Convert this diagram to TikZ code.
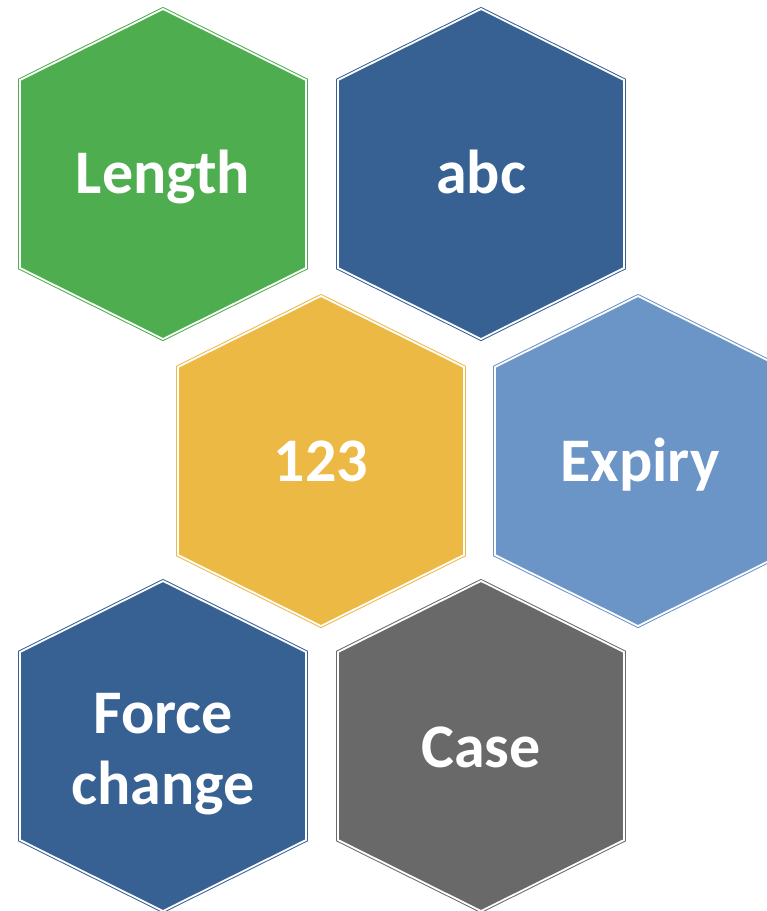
\documentclass[tikz,border=0pt]{standalone}
\usepackage{fontspec}
\setmainfont{Carlito}
\definecolor{cellgreen}{HTML}{4EAD4F}
\definecolor{cellnavy}{HTML}{386193}
\definecolor{cellgold}{HTML}{EDB945}
\definecolor{cellsky}{HTML}{6C95C7}
\definecolor{cellgray}{HTML}{696969}
\tikzset{
  hexcell/.style={draw=#1, fill=#1, line width=1pt, double=white, double distance=1.8pt},
  hexlabel/.style={text=white, font=\bfseries\fontsize{62}{71}\selectfont, align=center, anchor=base, inner sep=0pt}
}
% stretched hexagon round a centre
\newcommand{\hexcellat}[3]{%
  \draw[hexcell=#3] (#1,#2-165) -- (#1+143,#2-94) -- (#1+143,#2+94) -- (#1,#2+165)
    -- (#1-143,#2+94) -- (#1-143,#2-94) -- cycle;}

\begin{document}
\begin{tikzpicture}[x=1pt, y=-1pt]
    \useasboundingbox (0,0) rectangle (767,911);
    \clip (0,0) rectangle (767,911);
    \hexcellat{163}{174}{cellgreen}
    \hexcellat{481}{174}{cellnavy}
    \hexcellat{321}{461}{cellgold}
    \hexcellat{638}{461}{cellsky}
    \hexcellat{163}{746}{cellnavy}
    \hexcellat{481}{746}{cellgray}
    \node[hexlabel] (length) at (163,193) {Length};
    \node[hexlabel] (abc) at (481,193) {abc};
    \node[hexlabel] (num) at (321,481) {123};
    \node[hexlabel] (expiry) at (640,481) {Expiry};
    \node[hexlabel] (force) at (163,804) {Force\\change};
    \node[hexlabel] (case) at (481,767) {Case};
\end{tikzpicture}
\end{document}
